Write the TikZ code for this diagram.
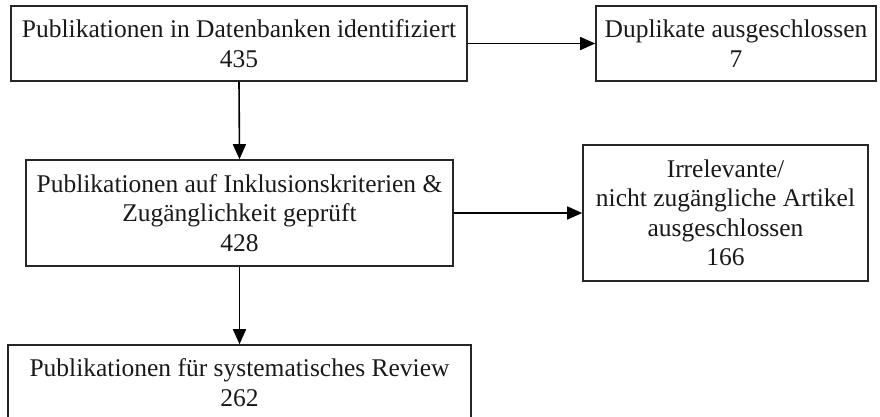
\documentclass[tikz,border=0pt]{standalone}
\usepackage{fontspec}
\setmainfont{Liberation Serif}
\usetikzlibrary{arrows.meta}
\begin{document}
\begin{tikzpicture}[x=1pt,y=-1pt,
  box/.style={draw=black!85,line width=1.6pt,rectangle,align=center,inner sep=0pt,
    font=\fontsize{25.5}{29.5}\selectfont,text=black!90},
  conn/.style={line width=1.6pt,-{Triangle[length=15pt,width=13pt]}}]
\useasboundingbox (0,0) rectangle (880,416);
\node[box,minimum width=456pt,minimum height=75pt] (a) at (239,43.5) {Publikationen in Datenbanken identifiziert\\435};
\node[box,minimum width=280pt,minimum height=75pt] (b) at (736,43.5) {Duplikate ausgeschlossen\\7};
\node[box,minimum width=427pt,minimum height=106pt] (c) at (239.5,213) {Publikationen auf Inklusionskriterien \&\\Zugänglichkeit geprüft\\428};
\node[box,minimum width=285pt,minimum height=136pt] (d) at (725.5,213) {Irrelevante/\\nicht zugängliche Artikel\\ausgeschlossen\\166};
\node[box,minimum width=463pt,minimum height=75pt] (e) at (239.5,382.5) {Publikationen für systematisches Review\\262};
\draw[conn] (a.east) -- (b.west);
\draw[conn] (a.south) -- (c.north);
\draw[conn] (c.east) -- (d.west);
\draw[conn] (c.south) -- (e.north);
\end{tikzpicture}
\end{document}
